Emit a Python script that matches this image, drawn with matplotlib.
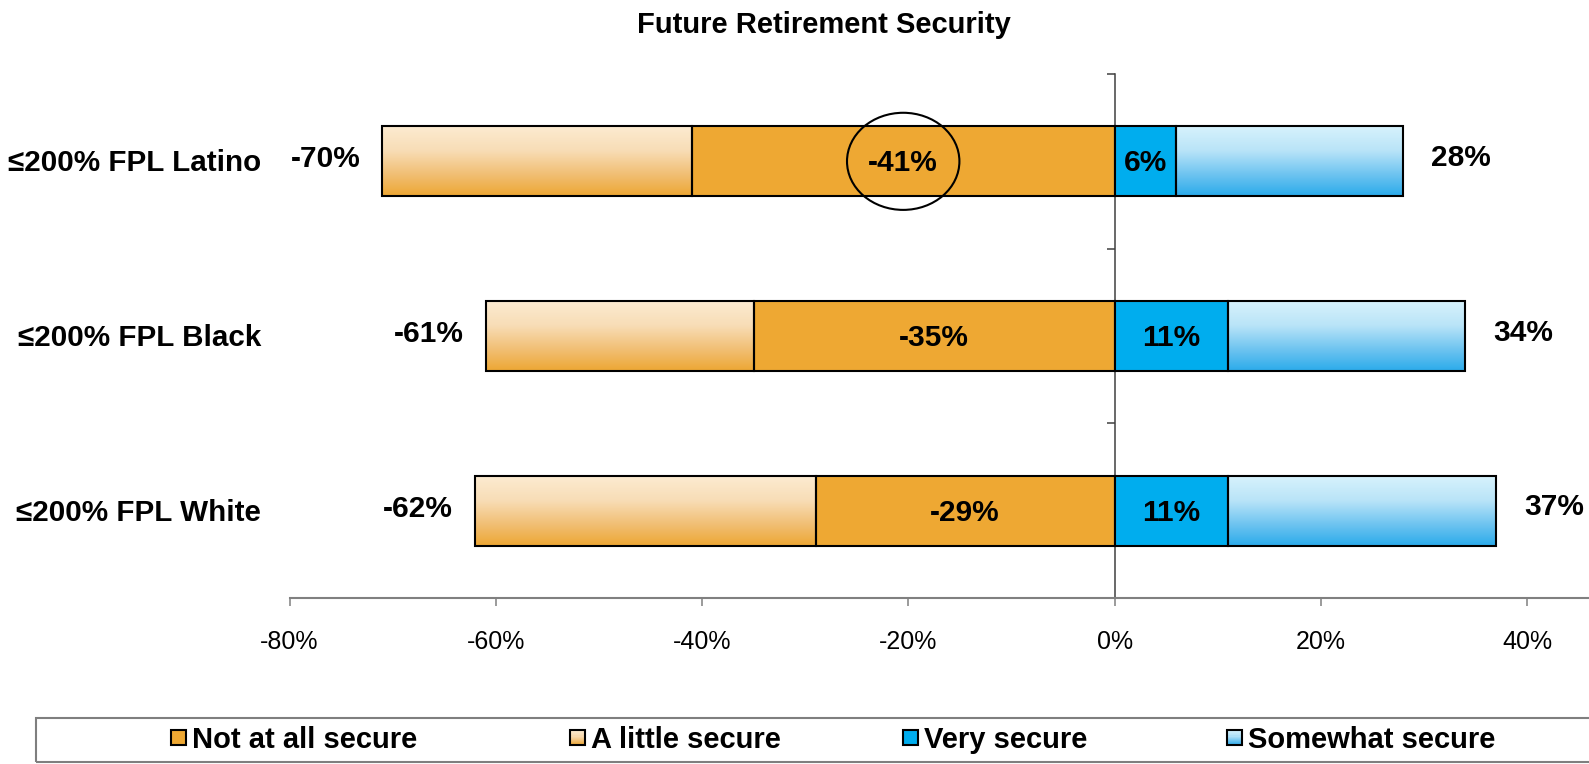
import numpy as np
import matplotlib
matplotlib.use("Agg")
import matplotlib.pyplot as plt
from matplotlib.patches import Rectangle, Ellipse, Patch
from matplotlib.colors import LinearSegmentedColormap
from matplotlib.legend_handler import HandlerBase
from matplotlib.transforms import blended_transform_factory

plt.rcParams['font.family'] = ['Liberation Sans', 'DejaVu Sans']
plt.rcParams['axes.unicode_minus'] = False

# ---------------- data ----------------
categories = ["≤200% FPL Latino", "≤200% FPL Black", "≤200% FPL White"]
not_at_all = [41, 35, 29]
a_little = [30, 26, 33]
very = [6, 11, 11]
somewhat = [22, 23, 26]
neg_totals = [70, 61, 62]
pos_totals = [28, 34, 37]
x_ticks = [-80, -60, -40, -20, 0, 20, 40]
x_tick_labels = ["-80%", "-60%", "-40%", "-20%", "0%", "20%", "40%"]
series_names = ["Not at all secure", "A little secure", "Very secure", "Somewhat secure"]
title = "Future Retirement Security"

# ---------------- style ----------------
ORANGE = "#EEA833"
BLUE = "#00ADEE"
little_cmap = LinearSegmentedColormap.from_list(
    "little", [(0, "#FCEBD1"), (0.35, "#F8DDB6"), (0.7, "#F1BE72"), (1, "#EDA733")])
some_cmap = LinearSegmentedColormap.from_list(
    "some", [(0, "#D7F2FC"), (0.35, "#B9E4F8"), (0.7, "#6CC3F0"), (1, "#2BABEB")])

W, H = 1589, 764
fig = plt.figure(figsize=(W / 100, H / 100), dpi=100)
ax_left = 289.6 / W
ax_bottom = 1 - 598 / H
ax = fig.add_axes([ax_left, ax_bottom, 1 - ax_left, (598 - 74) / H])

y = np.arange(len(categories))
bh = 0.4
edge_kw = dict(edgecolor="black", linewidth=1.5)

neg_na = [-v for v in not_at_all]
neg_li = [-v for v in a_little]

ax.barh(y, neg_na, height=bh, color=ORANGE, zorder=3, **edge_kw)
little_bars = ax.barh(y, neg_li, left=neg_na, height=bh, facecolor="none", zorder=4, **edge_kw)
ax.barh(y, very, height=bh, color=BLUE, zorder=3, **edge_kw)
some_bars = ax.barh(y, somewhat, left=very, height=bh, facecolor="none", zorder=4, **edge_kw)

grad = np.linspace(0, 1, 256).reshape(-1, 1)
for bars, cmap in ((little_bars, little_cmap), (some_bars, some_cmap)):
    for r in bars:
        x0, x1 = sorted([r.get_x(), r.get_x() + r.get_width()])
        y0, y1 = sorted([r.get_y(), r.get_y() + r.get_height()])
        ax.imshow(grad, cmap=cmap, aspect="auto", origin="upper",
                  extent=(x0, x1, y1, y0), zorder=2, interpolation="bilinear")

# labels
lbl_kw = dict(fontsize=21.5, fontweight="bold", color="black")
for i in range(len(categories)):
    ax.annotate(f"-{not_at_all[i]}%", xy=(-not_at_all[i] / 2, y[i]), xytext=(0, -1.5),
                textcoords="offset points", ha="center", va="center", zorder=6, **lbl_kw)
    ax.annotate(f"{very[i]}%", xy=(very[i] / 2, y[i]), xytext=(0, -1.5),
                textcoords="offset points", ha="center", va="center", zorder=6, **lbl_kw)
    left_end = -(not_at_all[i] + a_little[i])
    ax.annotate(f"-{neg_totals[i]}%", xy=(left_end, y[i]), xytext=(-16, 1.5),
                textcoords="offset points", ha="right", va="center", **lbl_kw)
    right_end = very[i] + somewhat[i]
    ax.annotate(f"{pos_totals[i]}%", xy=(right_end, y[i]), xytext=(20, 2.5),
                textcoords="offset points", ha="left", va="center", **lbl_kw)

# highlight circle around first label
ax.add_patch(Ellipse((-not_at_all[0] / 2, y[0]), width=10.9, height=0.556,
                     fill=False, edgecolor="black", linewidth=1.5, zorder=7))

# category labels
cat_tr = blended_transform_factory(fig.transFigure, ax.transData)
for i, c in enumerate(categories):
    ax.annotate(c, xy=(261 / W, y[i]), xycoords=cat_tr, xytext=(0, -1.5),
                textcoords="offset points", ha="right", va="center",
                fontsize=21.3, fontweight="bold", annotation_clip=False)

# axes
ax.set_xlim(-80, 46)
ax.set_ylim(len(categories) - 0.5, -0.5)
ax.spines["top"].set_visible(False)
ax.spines["right"].set_visible(False)
ax.spines["left"].set_position(("data", 0))
ax.spines["left"].set_color("#404040")
ax.spines["left"].set_linewidth(1.1)
ax.spines["bottom"].set_color("#808080")
ax.spines["bottom"].set_linewidth(1.5)
ax.set_yticks(np.arange(len(categories) + 1) - 0.5)
ax.set_yticklabels([])
ax.tick_params(axis="y", direction="out", length=6, width=1.1, color="#404040")
ax.set_xticks(x_ticks)
ax.set_xticklabels(x_tick_labels, fontsize=18)
ax.tick_params(axis="x", direction="out", length=6, width=1.1, color="#808080", pad=17)

fig.text(813 / 1568, 1 - 25 / H, title, ha="center", va="center", fontsize=21, fontweight="bold")


# legend
class SquareHandler(HandlerBase):
    def __init__(self, face=None, cmap=None):
        super().__init__()
        self.face = face
        self.cmap = cmap

    def create_artists(self, legend, orig_handle, xdescent, ydescent, width, height, fontsize, trans):
        s = min(width, height)
        x0 = -xdescent + (width - s) / 2
        y0 = -ydescent + (height - s) / 2
        arts = []
        if self.cmap is not None:
            n = 14
            for k in range(n):
                c = self.cmap((k + 0.5) / n)
                yy = y0 + s - (k + 1) * s / n
                arts.append(Rectangle((x0, yy), s, s / n + 0.05, facecolor=c, edgecolor="none", transform=trans))
            arts.append(Rectangle((x0, y0), s, s, facecolor="none", edgecolor="black", lw=1.5, transform=trans))
        else:
            arts.append(Rectangle((x0, y0), s, s, facecolor=self.face, edgecolor="black", lw=1.5, transform=trans))
        return arts


handlers = [SquareHandler(face=ORANGE), SquareHandler(cmap=little_cmap),
            SquareHandler(face=BLUE), SquareHandler(cmap=some_cmap)]
leg_x = [171, 570, 903, 1227]
leg_y = 1 - 740 / H
for name, hd, lx in zip(series_names, handlers, leg_x):
    p = Patch(label=name)
    fig.legend(handles=[p], labels=[name], handler_map={p: hd}, loc="center left",
               bbox_to_anchor=(lx / W, leg_y), frameon=False, borderpad=0, borderaxespad=0,
               handlelength=0.52, handleheight=0.52, handletextpad=0.2,
               prop=dict(size=21, weight="bold"))

fig.add_artist(Rectangle((35.5 / W, 2 / H), 1.0, (762 - 717.5) / H, transform=fig.transFigure,
                         fill=False, edgecolor="#7F7F7F", linewidth=1.5))

fig.savefig("out.png", dpi=100)
